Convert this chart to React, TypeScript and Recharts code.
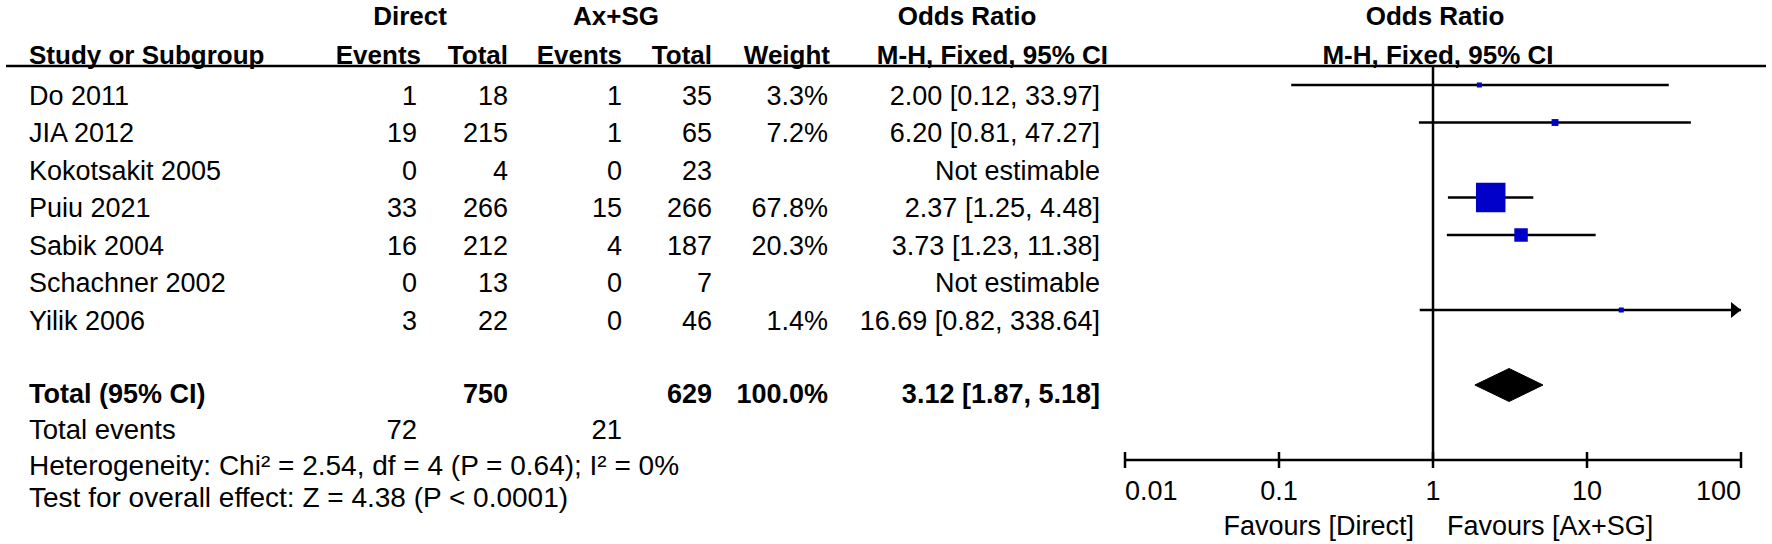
import React from 'react'
import { Area, ComposedChart, Line, ReferenceLine, Scatter, XAxis, YAxis } from 'recharts'

document.body.style.margin = '0'

// study rows, top to bottom
const studies = ['Do 2011', 'JIA 2012', 'Kokotsakit 2005', 'Puiu 2021', 'Sabik 2004', 'Schachner 2002', 'Yilik 2006']
const directEvents = [1, 19, 0, 33, 16, 0, 3]
const directTotal = [18, 215, 4, 266, 212, 13, 22]
const axEvents = [1, 1, 0, 15, 4, 0, 0]
const axTotal = [35, 65, 23, 266, 187, 7, 46]
const weights: (number | null)[] = [3.3, 7.2, null, 67.8, 20.3, null, 1.4]
const oddsRatio: (number | null)[] = [2.0, 6.2, null, 2.37, 3.73, null, 16.69]
const ciLow: (number | null)[] = [0.12, 0.81, null, 1.25, 1.23, null, 0.82]
const ciHigh: (number | null)[] = [33.97, 47.27, null, 4.48, 11.38, null, 338.64]

// pooled result
const totalDirect = 750
const totalAx = 629
const totalEventsDirect = 72
const totalEventsAx = 21
const totalWeight = 100.0
const totalOr = 3.12
const totalLow = 1.87
const totalHigh = 5.18

const axisTicks = [0.01, 0.1, 1, 10, 100]
const heterogeneity = 'Heterogeneity: Chi² = 2.54, df = 4 (P = 0.64); I² = 0%'
const overallEffect = 'Test for overall effect: Z = 4.38 (P < 0.0001)'

const FONT = '"Liberation Sans", Arial, Helvetica, sans-serif'
const W = 1772
const H = 544
const X_MIN = axisTicks[0]
const X_MAX = axisTicks[axisTicks.length - 1]
const TOTAL_ROW = studies.length + 1
const DIAMOND_HALF = 0.44

const fmt = (v: number) => v.toFixed(2)
const maxWeight = Math.max(...weights.filter((w): w is number => w != null))

const squares = studies
  .map((_, i) => ({ x: oddsRatio[i], y: i, weight: weights[i] }))
  .filter((d) => d.x != null)

const ciLines = studies
  .map((name, i) => ({ name, row: i, lo: ciLow[i], hi: ciHigh[i] }))
  .filter((d) => d.lo != null && d.hi != null)
  .map((d) => ({
    name: d.name,
    data: [
      { x: Math.max(d.lo as number, X_MIN), y: d.row, arrow: false },
      { x: Math.min(d.hi as number, X_MAX), y: d.row, arrow: (d.hi as number) > X_MAX },
    ],
  }))

const diamond = [
  { x: totalLow, y: [TOTAL_ROW, TOTAL_ROW] },
  { x: totalOr, y: [TOTAL_ROW - DIAMOND_HALF, TOTAL_ROW + DIAMOND_HALF] },
  { x: totalHigh, y: [TOTAL_ROW, TOTAL_ROW] },
]

function Square(props: any) {
  const { cx, cy, payload } = props
  const side = Math.max(5, 29.5 * Math.pow(payload.weight / maxWeight, 0.65))
  return <rect x={cx - side / 2} y={cy - side / 2} width={side} height={side} fill="#0000c8" />
}

function ArrowDot(props: any) {
  const { cx, cy, payload, index, key } = props
  if (!payload.arrow) return <g key={key ?? index} />
  return <path key={key ?? index} d={`M${cx},${cy} L${cx - 10},${cy - 8} L${cx - 10},${cy + 8} Z`} fill="#000" />
}

function AxisTick(props: any) {
  const { x, y, payload, index } = props
  const anchor = index === 0 ? 'start' : index === axisTicks.length - 1 ? 'end' : 'middle'
  return (
    <g>
      <line x1={x} x2={x} y1={y - 8} y2={y + 8} stroke="#000" strokeWidth={2.5} />
      <text x={x} y={y + 40} textAnchor={anchor} fontSize={27} fontFamily={FONT} fill="#000">
        {String(payload.value)}
      </text>
    </g>
  )
}

function T({ x, y, anchor = 'start', bold = false, size = 27, children }: any) {
  return (
    <text x={x} y={y} textAnchor={anchor} fontWeight={bold ? 700 : 400} fontSize={size} fontFamily={FONT} fill="#000">
      {children}
    </text>
  )
}

const rowBase = (i: number) => 95 + 37.5 * i + 9.7

export default function App() {
  return (
    <div style={{ position: 'relative', width: W, height: H, background: '#fff' }}>
      <ComposedChart
        width={W}
        height={H}
        margin={{ top: 66.25, right: 31, bottom: 0, left: 1125 }}
      >
        <XAxis
          dataKey="x"
          type="number"
          scale="log"
          domain={[X_MIN, X_MAX]}
          allowDataOverflow
          ticks={axisTicks}
          interval={0}
          height={84}
          tickSize={0}
          tickMargin={0}
          tickLine={false}
          axisLine={{ stroke: '#000', strokeWidth: 2.5 }}
          tick={<AxisTick />}
        />
        <YAxis dataKey="y" type="number" domain={[-0.5, TOTAL_ROW + 2]} reversed hide allowDataOverflow />
        <ReferenceLine x={1} stroke="#000" strokeWidth={2.5} />
        {ciLines.map((c) => (
          <Line
            key={c.name}
            data={c.data}
            dataKey="y"
            type="linear"
            stroke="#000"
            strokeWidth={2.5}
            dot={<ArrowDot />}
            activeDot={false}
            isAnimationActive={false}
          />
        ))}
        <Scatter data={squares} shape={<Square />} isAnimationActive={false} />
        <Area
          data={diamond}
          dataKey="y"
          type="linear"
          stroke="#000"
          strokeWidth={1}
          fill="#000"
          fillOpacity={1}
          dot={false}
          activeDot={false}
          isAnimationActive={false}
        />
      </ComposedChart>

      <svg width={W} height={H} style={{ position: 'absolute', left: 0, top: 0, pointerEvents: 'none' }}>
        {/* header */}
        <T x={410} y={25} anchor="middle" bold size={26}>Direct</T>
        <T x={616} y={25} anchor="middle" bold size={26}>Ax+SG</T>
        <T x={967} y={25} anchor="middle" bold size={26}>Odds Ratio</T>
        <T x={1435} y={25} anchor="middle" bold size={26}>Odds Ratio</T>
        <T x={29} y={64} bold size={26}>Study or Subgroup</T>
        <T x={421} y={64} anchor="end" bold size={26}>Events</T>
        <T x={508} y={64} anchor="end" bold size={26}>Total</T>
        <T x={622} y={64} anchor="end" bold size={26}>Events</T>
        <T x={712} y={64} anchor="end" bold size={26}>Total</T>
        <T x={830} y={64} anchor="end" bold size={26}>Weight</T>
        <T x={1108} y={64} anchor="end" bold size={26}>M-H, Fixed, 95% CI</T>
        <T x={1438} y={64} anchor="middle" bold size={26}>M-H, Fixed, 95% CI</T>
        <line x1={6} x2={1766} y1={66} y2={66} stroke="#000" strokeWidth={2.5} />

        {/* study rows */}
        {studies.map((name, i) => {
          const y = rowBase(i)
          const or = oddsRatio[i]
          const w = weights[i]
          return (
            <g key={name}>
              <T x={29} y={y}>{name}</T>
              <T x={417} y={y} anchor="end">{directEvents[i]}</T>
              <T x={508} y={y} anchor="end">{directTotal[i]}</T>
              <T x={622} y={y} anchor="end">{axEvents[i]}</T>
              <T x={712} y={y} anchor="end">{axTotal[i]}</T>
              {w != null && <T x={828} y={y} anchor="end">{w.toFixed(1)}%</T>}
              <T x={1100} y={y} anchor="end">
                {or != null ? `${fmt(or)} [${fmt(ciLow[i] as number)}, ${fmt(ciHigh[i] as number)}]` : 'Not estimable'}
              </T>
            </g>
          )
        })}

        {/* totals */}
        <T x={29} y={402.5} bold>Total (95% CI)</T>
        <T x={508} y={402.5} anchor="end" bold>{totalDirect}</T>
        <T x={712} y={402.5} anchor="end" bold>{totalAx}</T>
        <T x={828} y={402.5} anchor="end" bold>{totalWeight.toFixed(1)}%</T>
        <T x={1100} y={402.5} anchor="end" bold>{`${fmt(totalOr)} [${fmt(totalLow)}, ${fmt(totalHigh)}]`}</T>
        <T x={29} y={439} size={27.5}>Total events</T>
        <T x={417} y={439} anchor="end" size={27.5}>{totalEventsDirect}</T>
        <T x={622} y={439} anchor="end" size={27.5}>{totalEventsAx}</T>
        <T x={29} y={475} size={28}>{heterogeneity}</T>
        <T x={29} y={507} size={28}>{overallEffect}</T>

        {/* favours labels */}
        <T x={1414} y={535} anchor="end" size={27}>Favours [Direct]</T>
        <T x={1447} y={535} size={27}>Favours [Ax+SG]</T>
      </svg>
    </div>
  )
}
